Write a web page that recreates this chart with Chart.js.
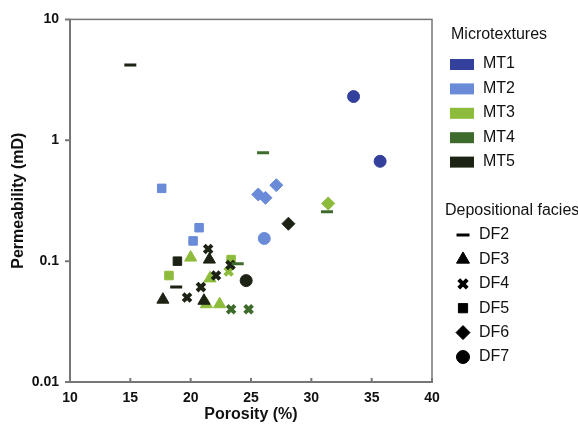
<!DOCTYPE html>
<html>
<head>
<meta charset="utf-8">
<script src="https://cdn.jsdelivr.net/npm/chart.js@4.4.1/dist/chart.umd.min.js"></script>
<style>
  html, body { margin: 0; padding: 0; background: #fff; }
  #wrap { width: 578px; height: 433px; }
</style>
</head>
<body>
<div id="wrap"><canvas id="c" width="578" height="433"></canvas></div>
<script>
// legend categories
const mtNames = ["MT1", "MT2", "MT3", "MT4", "MT5"];
const mtColors = ["#33409c", "#6a8bd8", "#8dbb3c", "#3e6a2c", "#1d2314"];
const dfNames = ["DF2", "DF3", "DF4", "DF5", "DF6", "DF7"];
const dfStyles = ["line", "triangle", "crossRot", "rect", "rectRot", "circle"];

// samples; earlier entries sit behind later ones
const porosity = [15.0, 17.6, 26.0, 25.6, 26.2, 27.1, 33.5, 35.7, 31.4, 31.3,
  28.1, 26.1, 20.7, 20.2, 21.45, 20.0, 18.9, 21.55, 23.35, 23.15,
  23.3, 23.9, 21.6, 22.1, 18.2, 18.8, 20.85, 24.6, 19.7, 17.7,
  21.3, 21.1, 22.4, 23.35, 24.8];
const permeability = [4.2, 0.40, 0.79, 0.356, 0.334, 0.425, 2.3, 0.67, 0.30, 0.256,
  0.204, 0.154, 0.189, 0.147, 0.126, 0.107, 0.100, 0.103, 0.103, 0.082,
  0.093, 0.095, 0.072, 0.076, 0.076, 0.061, 0.061, 0.069, 0.050, 0.048,
  0.044, 0.047, 0.044, 0.040, 0.040];
const sampleMT = ["MT5", "MT2", "MT4", "MT2", "MT2", "MT2", "MT1", "MT1", "MT3", "MT4",
  "MT5", "MT2", "MT2", "MT2", "MT5", "MT3", "MT5", "MT5", "MT3", "MT3",
  "MT5", "MT4", "MT3", "MT5", "MT3", "MT5", "MT5", "MT5", "MT5", "MT5",
  "MT3", "MT5", "MT3", "MT4", "MT4"];
const sampleDF = ["DF2", "DF5", "DF2", "DF6", "DF6", "DF6", "DF7", "DF7", "DF6", "DF2",
  "DF6", "DF7", "DF5", "DF5", "DF4", "DF3", "DF5", "DF3", "DF5", "DF4",
  "DF4", "DF2", "DF3", "DF4", "DF5", "DF2", "DF4", "DF7", "DF4", "DF3",
  "DF3", "DF3", "DF3", "DF4", "DF4"];

// axes
const xTicks = [10, 15, 20, 25, 30, 35, 40];
const yTicks = [0.01, 0.1, 1, 10];
const yTickLabels = ["0.01", "0.1", "1", "10"];

const FONT = '"Liberation Sans", Arial, sans-serif';
const AXIS = "#767676";

const markSize = { line: 6, triangle: 7, crossRot: 5.5, rect: 6, rectRot: 6.5, circle: 6 };
const markStroke = { line: 3, crossRot: 4 };

const styleOf = (i) => dfStyles[dfNames.indexOf(sampleDF[i])];
const colorOf = (i) => mtColors[mtNames.indexOf(sampleMT[i])];

// box round the plot plus short ticks (x ticks point in, y ticks point out)
const frame = {
  id: "frame",
  beforeDatasetsDraw(chart) {
    const { ctx, chartArea: a, scales } = chart;
    ctx.save();
    ctx.strokeStyle = AXIS;
    ctx.lineWidth = 1.5;
    ctx.strokeRect(a.left, a.top, a.right - a.left, a.bottom - a.top);
    ctx.lineWidth = 2;
    ctx.beginPath();
    ctx.moveTo(a.left, a.top);
    ctx.lineTo(a.left, a.bottom);
    ctx.lineTo(a.right, a.bottom);
    xTicks.forEach((v) => {
      const x = scales.x.getPixelForValue(v);
      ctx.moveTo(x, a.bottom + 1);
      ctx.lineTo(x, a.bottom - 4);
    });
    yTicks.forEach((v) => {
      const y = scales.y.getPixelForValue(v);
      ctx.moveTo(a.left - 5, y);
      ctx.lineTo(a.left, y);
    });
    ctx.stroke();
    ctx.restore();
  },
};

// two-part legend on the right
const sideLegend = {
  id: "sideLegend",
  afterDraw(chart) {
    const ctx = chart.ctx;
    ctx.save();
    ctx.font = "16px " + FONT;
    ctx.textBaseline = "middle";
    ctx.fillStyle = "#111";
    ctx.fillText("Microtextures", 451, 35);
    mtNames.forEach((n, i) => {
      const y = 64 + i * 24.4;
      ctx.fillStyle = mtColors[i];
      ctx.fillRect(450, y - 5, 24, 11);
      ctx.fillStyle = "#111";
      ctx.fillText(n, 483, y);
    });
    ctx.fillText("Depositional facies", 445, 211);
    dfNames.forEach((n, i) => {
      const y = 235 + i * 24.4;
      const st = dfStyles[i];
      ctx.fillStyle = "#000";
      ctx.strokeStyle = "#000";
      ctx.lineWidth = markStroke[st] || 1;
      Chart.helpers.drawPoint(ctx, { pointStyle: st, radius: markSize[st] + 0.5, rotation: 0, borderWidth: ctx.lineWidth }, 463, y);
      ctx.fillStyle = "#111";
      ctx.fillText(n, 479, y);
    });
    ctx.restore();
  },
};

new Chart(document.getElementById("c"), {
  type: "scatter",
  data: {
    datasets: [{
      data: porosity.map((x, i) => ({ x, y: permeability[i] })),
      pointStyle: (c) => styleOf(c.dataIndex),
      pointRadius: (c) => markSize[styleOf(c.dataIndex)],
      pointBorderWidth: (c) => markStroke[styleOf(c.dataIndex)] || 1,
      pointBackgroundColor: (c) => colorOf(c.dataIndex),
      pointBorderColor: (c) => colorOf(c.dataIndex),
      pointHoverRadius: (c) => markSize[styleOf(c.dataIndex)],
    }],
  },
  options: {
    responsive: false,
    animation: false,
    layout: { padding: { top: 17, right: 146, left: 0, bottom: 0 } },
    scales: {
      x: {
        type: "linear",
        min: 10,
        max: 40,
        afterBuildTicks: (s) => { s.ticks = xTicks.map((v) => ({ value: v })); },
        afterFit: (s) => { s.height = 51; },
        grid: { display: false, drawTicks: false },
        border: { display: false },
        ticks: { padding: 8, color: "#111", font: { family: FONT, size: 14, weight: "bold" } },
        title: {
          display: true,
          text: "Porosity (%)",
          color: "#111",
          font: { family: FONT, size: 16, weight: "bold" },
          padding: { top: 0, bottom: 9 },
        },
      },
      y: {
        type: "logarithmic",
        min: 0.01,
        max: 10,
        afterBuildTicks: (s) => { s.ticks = yTicks.map((v) => ({ value: v })); },
        afterFit: (s) => { s.width = 70; },
        grid: { display: false, drawTicks: false },
        border: { display: false },
        ticks: {
          padding: 11,
          color: "#111",
          font: { family: FONT, size: 14, weight: "bold" },
          callback: (v) => yTickLabels[yTicks.indexOf(v)] ?? "",
        },
        title: {
          display: true,
          text: "Permeability (mD)",
          color: "#111",
          font: { family: FONT, size: 16, weight: "bold" },
          padding: { top: 9, bottom: 0 },
        },
      },
    },
    plugins: {
      legend: { display: false },
      tooltip: { enabled: false },
    },
  },
  plugins: [frame, sideLegend],
});
</script>
</body>
</html>
